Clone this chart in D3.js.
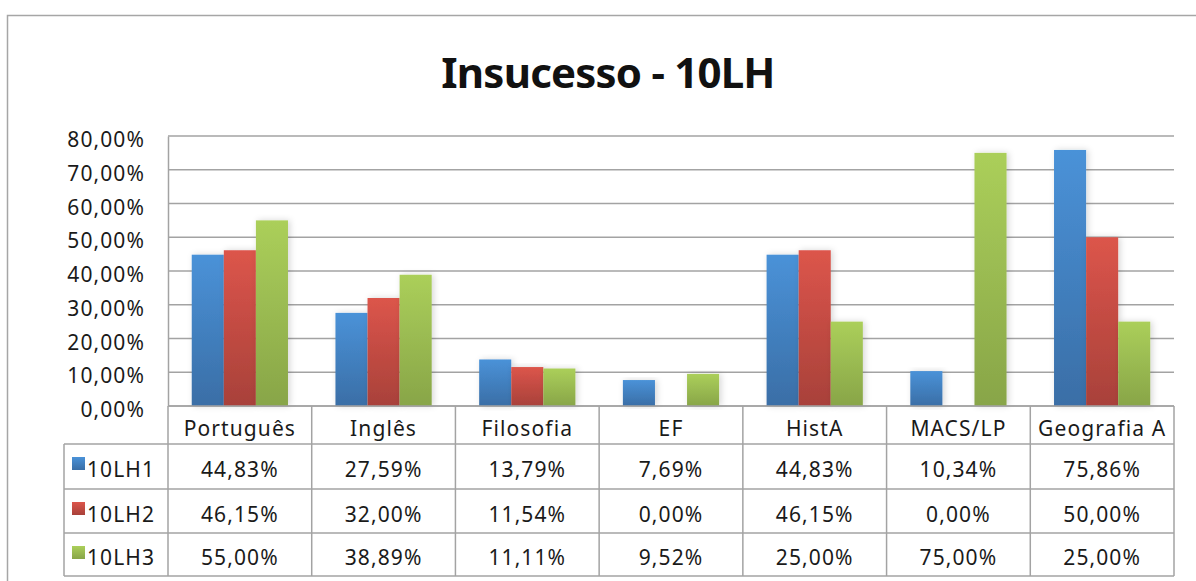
<!DOCTYPE html>
<html>
<head>
<meta charset="utf-8">
<script src="https://cdn.jsdelivr.net/npm/d3@7"></script>
<style>
  body { margin: 0; background: #fff; }
  svg { display: block; font-family: "Noto Sans", "Open Sans", sans-serif; }
</style>
</head>
<body>
<svg id="chart" width="1196" height="581"></svg>
<script>
const categories = ["Português", "Inglês", "Filosofia", "EF", "HistA", "MACS/LP", "Geografia A"];
const seriesNames = ["10LH1", "10LH2", "10LH3"];
const lh1 = [44.83, 27.59, 13.79, 7.69, 44.83, 10.34, 75.86];
const lh2 = [46.15, 32.00, 11.54, 0.00, 46.15, 0.00, 50.00];
const lh3 = [55.00, 38.89, 11.11, 9.52, 25.00, 75.00, 25.00];
const yTicks = [0, 10, 20, 30, 40, 50, 60, 70, 80];

const seriesValues = [lh1, lh2, lh3];
const colors = [
    { top: "#4a92d8", bottom: "#3a6ea6" },
    { top: "#dc554b", bottom: "#a8413a" },
    { top: "#abcf5a", bottom: "#88a548" }
];

const svg = d3.select("#chart");
const fmt = v => v.toFixed(2).replace(".", ",") + "%";

const plot = { left: 168, right: 1174, top: 136, bottom: 406 };
const tableRows = [406, 444, 489, 533, 576];
const legendLeft = 64;
const gridColor = "#a3a3a3";
const textStyle = sel => sel
    .attr("font-size", 21)
    .attr("letter-spacing", 1.1)
    .attr("fill", "#1a1a1a");

// gradients + shadow
const defs = svg.append("defs");
colors.forEach((c, i) => {
    const g = defs.append("linearGradient")
        .attr("id", `grad-${i}`)
        .attr("x1", 0).attr("y1", 0).attr("x2", 0).attr("y2", 1);
    g.append("stop").attr("offset", "0%").attr("stop-color", c.top);
    g.append("stop").attr("offset", "100%").attr("stop-color", c.bottom);
});
const shadow = defs.append("filter").attr("id", "shadow")
    .attr("x", "-30%").attr("y", "-10%").attr("width", "160%").attr("height", "120%");
shadow.append("feDropShadow")
    .attr("dx", 2).attr("dy", 0).attr("stdDeviation", 3)
    .attr("flood-color", "#000").attr("flood-opacity", 0.16);

// outer frame (chart is cropped on the right and bottom)
svg.append("rect")
    .attr("x", 7.5).attr("y", 15.5)
    .attr("width", 1300).attr("height", 700)
    .attr("fill", "none")
    .attr("stroke", "#a6a6a6")
    .attr("stroke-width", 1.5);

// title
svg.append("text")
    .attr("x", 608).attr("y", 88)
    .attr("text-anchor", "middle")
    .attr("font-size", 42)
    .attr("font-weight", "bold")
    .attr("letter-spacing", -0.8)
    .attr("fill", "#111")
    .text("Insucesso - 10LH");

const x = d3.scaleBand()
    .domain(categories)
    .range([plot.left, plot.right]);

const xs = d3.scaleBand()
    .domain(seriesNames)
    .range([0, x.bandwidth()])
    .paddingOuter(0.74)
    .paddingInner(0);

const y = d3.scaleLinear()
    .domain([0, 80])
    .range([plot.bottom, plot.top]);

// gridlines
svg.append("g")
    .selectAll("line")
    .data(yTicks)
    .join("line")
    .attr("x1", plot.left).attr("x2", plot.right)
    .attr("y1", d => y(d)).attr("y2", d => y(d))
    .attr("stroke", gridColor)
    .attr("stroke-width", 1.5);

// y axis
const yAxis = svg.append("g")
    .attr("transform", `translate(${plot.left},0)`)
    .call(d3.axisLeft(y).tickValues(yTicks).tickSize(0).tickPadding(23).tickFormat(fmt));
yAxis.select(".domain").attr("stroke", gridColor).attr("stroke-width", 1.5);
yAxis.selectAll("text")
    .attr("dy", "0.5em")
    .attr("font-family", "\"Noto Sans\", sans-serif")
    .call(textStyle);

// bars
const groups = svg.append("g")
    .selectAll("g")
    .data(categories)
    .join("g")
    .attr("transform", d => `translate(${x(d)},0)`);

groups.selectAll("rect")
    .data((d, ci) => seriesNames.map((s, si) => ({ s, si, v: seriesValues[si][ci] })))
    .join("rect")
    .filter(d => d.v > 0)
    .attr("x", d => xs(d.s))
    .attr("width", xs.bandwidth())
    .attr("y", d => y(d.v))
    .attr("height", d => y(0) - y(d.v))
    .attr("fill", d => `url(#grad-${d.si})`)
    .attr("filter", "url(#shadow)");

// data table
const table = svg.append("g");
const lineAttrs = sel => sel.attr("stroke", gridColor).attr("stroke-width", 1.5);

// horizontal lines
table.append("line")
    .attr("x1", plot.left).attr("x2", plot.right)
    .attr("y1", tableRows[0]).attr("y2", tableRows[0]).call(lineAttrs);
tableRows.slice(1).forEach(r => {
    table.append("line")
        .attr("x1", legendLeft).attr("x2", plot.right)
        .attr("y1", r).attr("y2", r).call(lineAttrs);
});

// vertical lines
const colEdges = categories.map(c => x(c)).concat([plot.right]);
colEdges.forEach(cx => {
    table.append("line")
        .attr("x1", cx).attr("x2", cx)
        .attr("y1", tableRows[0]).attr("y2", tableRows[4]).call(lineAttrs);
});
table.append("line")
    .attr("x1", legendLeft).attr("x2", legendLeft)
    .attr("y1", tableRows[1]).attr("y2", tableRows[4]).call(lineAttrs);

// header labels
table.selectAll(".cat")
    .data(categories)
    .join("text")
    .attr("class", "cat")
    .attr("x", d => x(d) + x.bandwidth() / 2)
    .attr("y", (tableRows[0] + tableRows[1]) / 2 + 11)
    .attr("text-anchor", "middle")
    .call(textStyle)
    .text(d => d);

// series rows
seriesNames.forEach((s, si) => {
    const top = tableRows[si + 1];
    const bot = tableRows[si + 2];
    const mid = (top + bot) / 2;

    table.append("rect")
        .attr("x", 72).attr("y", top + 13)
        .attr("width", 13).attr("height", 13)
        .attr("fill", `url(#grad-${si})`);

    table.append("text")
        .attr("x", 87).attr("y", mid + 10.5)
        .call(textStyle)
        .text(s);

    table.selectAll(`.val-${si}`)
        .data(seriesValues[si])
        .join("text")
        .attr("class", `val-${si}`)
        .attr("x", (d, ci) => x(categories[ci]) + x.bandwidth() / 2)
        .attr("y", mid + 10.5)
        .attr("text-anchor", "middle")
        .call(textStyle)
        .text(d => fmt(d));
});
</script>
</body>
</html>
